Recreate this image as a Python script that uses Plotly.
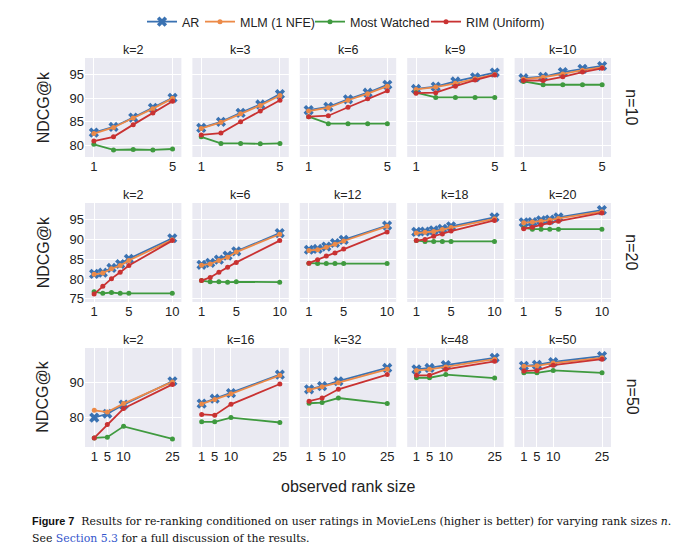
import plotly.graph_objects as go
from plotly.subplots import make_subplots

W, H = 680, 554
FONT = "Liberation Sans"

# ── data ──
N_VALUES = [10, 20, 50]
K_N10 = [2, 3, 6, 9, 10]
K_N20 = [2, 6, 12, 18, 20]
K_N50 = [2, 16, 32, 48, 50]
X_N10 = [1, 2, 3, 4, 5]
X_N20 = [1, 2, 3, 4, 5, 10]
X_N50 = [1, 5, 10, 25]
XTICKS_N10 = [1, 5]
XTICKS_N20 = [1, 5, 10]
XTICKS_N50 = [1, 5, 10, 25]
YTICKS_N10 = [80, 85, 90, 95]
YTICKS_N20 = [75, 80, 85, 90, 95]
YTICKS_N50 = [80, 90]

AR_N10 = [[82.7, 83.9, 85.9, 88.0, 90.1], [83.7, 85.0, 86.9, 88.7, 90.9],
          [87.5, 88.2, 89.8, 91.2, 92.9], [92.0, 92.5, 93.6, 94.5, 95.5],
          [94.3, 94.6, 95.6, 96.3, 96.9]]
MLM_N10 = [[82.5, 83.8, 85.8, 87.8, 90.0], [83.6, 84.9, 86.7, 88.5, 90.6],
           [87.3, 88.0, 89.6, 91.0, 92.6], [91.9, 92.4, 93.2, 94.2, 95.1],
           [94.1, 94.5, 95.2, 96.0, 96.6]]
MW_N10 = [[80.2, 79.0, 79.1, 79.0, 79.2], [81.8, 80.4, 80.4, 80.3, 80.4],
          [86.1, 84.6, 84.6, 84.6, 84.6], [91.2, 90.2, 90.2, 90.2, 90.2],
          [93.6, 92.9, 92.9, 92.9, 92.9]]
RIM_N10 = [[80.9, 81.8, 84.4, 86.9, 89.4], [82.2, 82.6, 85.0, 87.3, 89.6],
           [86.1, 86.3, 88.1, 89.9, 91.6], [91.1, 91.2, 92.6, 93.9, 95.0],
           [93.8, 93.8, 94.6, 95.6, 96.4]]

AR_N20 = [[81.3, 81.6, 82.8, 83.8, 85.1, 90.3], [83.6, 84.1, 84.9, 85.9, 87.0, 91.6],
          [87.4, 87.6, 88.2, 89.1, 89.9, 93.5], [91.9, 92.0, 92.3, 92.7, 93.3, 95.6],
          [94.3, 94.4, 94.8, 95.0, 95.6, 97.4]]
MLM_N20 = [[81.2, 81.5, 82.6, 83.4, 84.7, 89.9], [83.5, 83.8, 84.7, 85.5, 86.8, 91.3],
           [87.2, 87.4, 88.0, 88.8, 89.6, 93.3], [91.6, 91.8, 92.0, 92.5, 93.0, 95.2],
           [94.2, 94.4, 94.6, 94.9, 95.3, 97.0]]
MW_N20 = [[76.8, 76.4, 76.6, 76.4, 76.4, 76.4], [79.6, 79.3, 79.3, 79.2, 79.3, 79.2],
          [84.0, 83.9, 83.9, 83.9, 83.9, 83.9], [89.7, 89.5, 89.5, 89.5, 89.5, 89.5],
          [92.9, 92.6, 92.6, 92.6, 92.6, 92.6]]
RIM_N20 = [[76.2, 78.2, 80.1, 81.7, 83.4, 89.7], [79.6, 80.4, 81.7, 83.0, 84.2, 89.7],
           [84.0, 84.9, 85.8, 86.6, 87.6, 91.9], [89.7, 90.0, 90.8, 91.4, 92.1, 94.8],
           [92.7, 93.1, 93.7, 94.2, 94.6, 96.7]]

AR_N50 = [[80.0, 81.1, 83.7, 90.4], [84.0, 85.4, 87.0, 92.3], [88.1, 89.0, 90.4, 94.2],
          [93.8, 94.2, 95.0, 97.1], [94.8, 95.1, 95.9, 97.6]]
MLM_N50 = [[82.1, 81.6, 84.0, 90.2], [83.9, 85.2, 86.8, 92.1], [87.9, 88.8, 90.0, 93.8],
           [93.5, 93.8, 94.5, 96.7], [94.7, 94.8, 95.6, 97.1]]
MW_N50 = [[74.2, 74.4, 77.5, 73.9], [78.8, 78.8, 80.0, 78.6], [84.1, 84.3, 85.6, 84.0],
          [91.4, 91.4, 92.3, 91.3], [92.8, 92.8, 93.5, 92.8]]
RIM_N50 = [[74.2, 78.0, 82.6, 89.5], [80.9, 80.7, 83.8, 89.6], [84.7, 85.6, 88.1, 92.3],
           [92.1, 92.1, 93.8, 96.1], [93.3, 93.5, 95.0, 96.7]]

# ── styles ──
SERIES = [
    ("AR", "#3a72b2", "x", 9),
    ("MLM (1 NFE)", "#ec8a48", "circle", 5),
    ("Most Watched", "#3f9a3f", "circle", 5),
    ("RIM (Uniform)", "#c93232", "circle", 5),
]
LEGEND_TEXT_X = [182, 240, 350, 466]   # where each legend label starts (px)
ROWS = [
    (K_N10, X_N10, XTICKS_N10, YTICKS_N10, [0.55, 5.45], [77.5, 98.6], [AR_N10, MLM_N10, MW_N10, RIM_N10]),
    (K_N20, X_N20, XTICKS_N20, YTICKS_N20, [-0.05, 11.05], [74.2, 99.2], [AR_N20, MLM_N20, MW_N20, RIM_N20]),
    (K_N50, X_N50, XTICKS_N50, YTICKS_N50, [-1.85, 27.75], [71.6, 99.9], [AR_N50, MLM_N50, MW_N50, RIM_N50]),
]

# panel box in pixels
L, R, T, B = 85, 611, 58, 447
pw, ph = R - L, B - T

titles = [f"k={k}" for row in ROWS for k in row[0]]
fig = make_subplots(rows=3, cols=5, subplot_titles=titles,
                    horizontal_spacing=11 / pw, vertical_spacing=46 / ph)

leg_names = ["legend", "legend2", "legend3", "legend4"]
for r, (ks, xs, xt, yt, xr, yr, series) in enumerate(ROWS, 1):
    for c in range(1, 6):
        for j, ((name, color, sym, size), vals) in enumerate(zip(SERIES, series)):
            fig.add_trace(go.Scatter(
                x=xs, y=vals[c - 1], mode="lines+markers", name=name,
                line=dict(color=color, width=1.8),
                marker=dict(color=color, symbol=sym, size=size, line=dict(width=0)),
                showlegend=(r == 1 and c == 1), legend=leg_names[j],
            ), row=r, col=c)
        fig.update_xaxes(range=xr, tickvals=xt, showgrid=True, gridcolor="white", gridwidth=1,
                         zeroline=False, showline=False, ticks="", row=r, col=c,
                         tickfont=dict(size=13, color="#222"))
        fig.update_yaxes(range=yr, tickvals=yt, showgrid=True, gridcolor="white", gridwidth=1,
                         zeroline=False, showline=False, ticks="", showticklabels=(c == 1),
                         row=r, col=c, tickfont=dict(size=13, color="#222"))

for a in fig.layout.annotations:
    a.font = dict(family=FONT, size=12.5, color="#222")
    a.yshift = -1

def px_x(x):
    return (x - L) / pw

def px_y(y):
    return 1 - (y - T) / ph

def label(text, x, y, angle=0, size=16, xanchor="center", family=FONT, color="#222"):
    fig.add_annotation(text=text, x=px_x(x), y=px_y(y), xref="paper", yref="paper",
                       xanchor=xanchor, yanchor="middle", showarrow=False, textangle=angle,
                       font=dict(family=family, size=size, color=color))

row_tops = [58.3, 203.3, 347.7]
for i, n in enumerate(N_VALUES):
    yc = row_tops[i] + 49
    label(f"n={n}", 632, yc, angle=90)
    label("NDCG@k", 43, yc, angle=-90)

label("observed rank size", 348, 487)

SERIF = "DejaVu Serif"
label("<b><span style='font-family:Liberation Sans'>Figure 7</span></b>  Results for re-ranking conditioned "
      "on user ratings in MovieLens (higher is better) for varying rank sizes <i>n</i>.",
      30, 521, size=10.9, xanchor="left", family=SERIF, color="#111")
label("See <span style='color:#3355cc'>Section 5.3</span> for a full discussion of the results.",
      30, 538, size=10.9, xanchor="left", family=SERIF, color="#111")

legends = {}
for name, tx in zip(leg_names, LEGEND_TEXT_X):
    legends[name] = dict(orientation="h", xref="container", yref="container",
                         x=(tx - 40) / W, y=1 - 22 / H, xanchor="left", yanchor="middle",
                         font=dict(family=FONT, size=12.5, color="#222"), itemwidth=30,
                         bgcolor="rgba(0,0,0,0)")

fig.update_layout(
    width=W, height=H,
    margin=dict(l=L, r=W - R, t=T, b=H - B, autoexpand=False),
    paper_bgcolor="white", plot_bgcolor="#eaeaf2",
    font=dict(family=FONT, size=13, color="#222"),
    showlegend=True,
    **legends,
)

# the page body has a default 8px margin; drop it so the figure fills the window
fig.write_html("out.html", config={"displayModeBar": False},
               post_script="document.body.style.margin='0';")
